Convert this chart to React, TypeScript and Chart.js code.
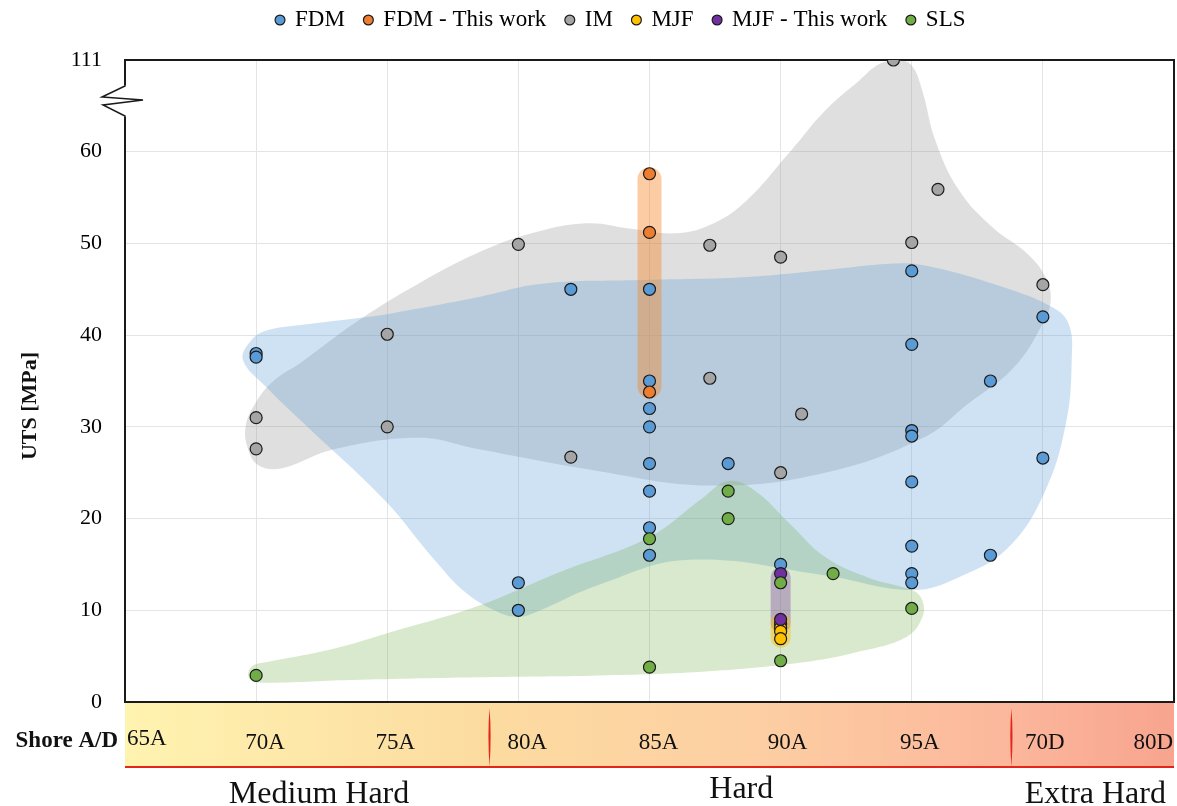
import React, { useEffect, useRef } from 'react';
import { Chart, registerables } from 'chart.js';

Chart.register(...registerables);

const FONT = '"Liberation Serif", "Times New Roman", Times, serif';

// ---- axes ----
const shoreTickValues = [65, 70, 75, 80, 85, 90, 95, 100, 105];
const shoreTickLabels = ['65A', '70A', '75A', '80A', '85A', '90A', '95A', '70D', '80D'];
const utsTickValues = [0, 10, 20, 30, 40, 50, 60, 70];
const utsTickLabels = ['0', '10', '20', '30', '40', '50', '60', '111'];
const hardnessClasses = ['Medium Hard', 'Hard', 'Extra Hard'];
const hardnessClassCentres = [72.4, 88.5, 102.0];
const hardnessClassBounds = [78.9, 98.8];

// broken axis: 60..111 MPa squeezed into 60..70 axis units
const BREAK_FROM = 60;
const BREAK_TO = 111;
const BREAK_SPAN = 10;
const toAxis = (v: number) => (v <= BREAK_FROM ? v : BREAK_FROM + ((v - BREAK_FROM) * BREAK_SPAN) / (BREAK_TO - BREAK_FROM));

// ---- series (Shore position, UTS MPa) ----
const fdm: [number, number][] = [
  [70, 38.0], [70, 37.6], [80, 13.0], [80, 10.0], [82, 45.0], [85, 45.0], [85, 35.0], [85, 32.0], [85, 30.0],
  [85, 26.0], [85, 23.0], [85, 19.0], [85, 16.0], [88, 26.0], [90, 15.0], [95, 47.0], [95, 39.0], [95, 29.6],
  [95, 29.0], [95, 24.0], [95, 17.0], [95, 14.0], [95, 13.0], [98, 35.0], [98, 16.0], [100, 42.0], [100, 26.6],
];
const fdmThisWork: [number, number][] = [[85, 57.6], [85, 51.2], [85, 33.8]];
const im: [number, number][] = [
  [70, 31.0], [70, 27.6], [75, 40.1], [75, 30.0], [80, 49.9], [82, 26.7], [87.3, 49.8], [87.3, 35.3], [90, 48.5],
  [90.8, 31.4], [90, 25.0], [94.3, 111], [96, 55.9], [95, 50.1], [100, 45.5],
];
const mjf: [number, number][] = [[90, 8.5], [90, 8.1], [90, 7.7], [90, 6.9]];
const mjfThisWork: [number, number][] = [[90, 14.0], [90, 9.0]];
const sls: [number, number][] = [
  [70, 2.9], [85, 17.8], [85, 3.8], [88, 23.0], [88, 20.0], [90, 13.0], [90, 4.5], [92, 14.0], [95, 10.2],
];

// ---- shaded envelopes (outline points, Shore position / UTS MPa) ----
const imEnvelope: [number, number][] = [
  [69.6, 30.0], [70.0, 32.7], [70.7, 35.1], [71.7, 37.0], [73.9, 41.6], [76.3, 45.8], [78.4, 48.9], [80.5, 51.1],
  [82.6, 52.2], [84.3, 51.6], [86.0, 51.1], [87.3, 52.0], [88.6, 54.4], [90.4, 60.7], [91.7, 82.9], [93.0, 99.6],
  [93.8, 109.0], [94.5, 110.8], [95.0, 107.9], [95.4, 94.0], [95.9, 66.2], [96.8, 55.8], [98.1, 51.7], [99.4, 48.9],
  [100.1, 46.3], [100.3, 43.8], [100.0, 41.3], [98.9, 36.5], [97.1, 32.4], [95.5, 28.9], [91.7, 25.0], [87.3, 23.6],
  [82.8, 25.3], [78.4, 27.6], [76.2, 28.8], [72.9, 27.5], [71.0, 25.5], [70.1, 25.8], [69.7, 27.5],
];
const fdmEnvelope: [number, number][] = [
  [69.5, 37.3], [69.8, 39.4], [70.4, 40.5], [71.7, 41.1], [74.0, 41.9], [75.2, 42.4], [78.4, 44.1], [80.9, 45.6],
  [84.7, 46.0], [88.5, 46.3], [91.7, 47.1], [94.3, 47.8], [95.5, 47.6], [98.1, 45.6], [100.4, 43.0], [101.0, 41.1],
  [101.1, 37.3], [100.9, 30.7], [100.1, 23.1], [98.7, 16.9], [96.8, 13.6], [95.0, 12.2], [91.7, 13.8], [86.5, 15.5],
  [83.1, 12.8], [80.6, 9.7], [80.0, 9.3], [79.3, 9.7], [78.0, 11.9], [76.8, 15.5], [74.9, 22.0], [71.7, 30.7], [70.4, 34.3],
];
const slsEnvelope: [number, number][] = [
  [69.7, 3.2], [69.9, 4.0], [70.3, 4.3], [72.8, 5.7], [75.0, 7.5], [78.4, 10.4], [81.6, 14.2], [85.0, 18.0],
  [87.0, 22.2], [88.0, 24.1], [89.0, 23.1], [90.4, 19.3], [91.7, 15.8], [93.4, 13.5], [95.0, 12.2], [95.4, 11.1],
  [95.4, 9.2], [94.8, 7.1], [93.0, 5.5], [90.8, 4.3], [87.0, 3.3], [83.1, 2.9], [78.4, 2.7], [73.6, 2.4],
  [70.3, 2.1], [69.8, 2.4],
];
const fdmThisWorkBand: [number, number][] = [[85, 57.0], [85, 34.4]];
const mjfThisWorkBand: [number, number][] = [[90, 13.6], [90, 8.6]];
const mjfBand: [number, number][] = [[90, 8.6], [90, 7.0]];

const pts = (arr: [number, number][]) => arr.map(([x, y]) => ({ x, y: toAxis(y) }));
const closed = (arr: [number, number][]) => {
  const p = pts(arr);
  return [p[p.length - 1], ...p, p[0], p[1]];
};

const pointSeries = (label: string, data: [number, number][], color: string, order: number) => ({
  type: 'scatter' as const,
  label,
  data: pts(data),
  backgroundColor: color,
  borderColor: '#1b1b1b',
  borderWidth: 1.2,
  pointRadius: 6,
  order,
});

const envelope = (label: string, data: [number, number][], color: string, order: number) => ({
  type: 'line' as const,
  label,
  data: closed(data),
  backgroundColor: color,
  borderWidth: 0,
  borderColor: 'rgba(0,0,0,0)',
  pointRadius: 0,
  tension: 0.4,
  fill: 'shape',
  order,
});

const band = (label: string, data: [number, number][], color: string, width: number, order: number) => ({
  type: 'line' as const,
  label,
  data: pts(data),
  borderColor: color,
  borderWidth: width,
  borderCapStyle: 'round' as const,
  pointRadius: 0,
  fill: false,
  order,
});

const labelNudge = [0, 9, 8, 9, 9, 7, 8, 2, 0];
const classBaselines = [101, 96, 101];

const decorPlugin = {
  id: 'decor',
  beforeDraw(chart: any) {
    const { ctx, chartArea: a, scales } = chart;
    const x = scales.x;
    ctx.save();
    const bandTop = a.bottom + 1;
    const bandBottom = a.bottom + 65;
    const g = ctx.createLinearGradient(a.left, 0, a.right, 0);
    g.addColorStop(0, '#fff3b0');
    g.addColorStop(0.35, '#fcdba0');
    g.addColorStop(0.6, '#fdcfa3');
    g.addColorStop(0.85, '#fbb69b');
    g.addColorStop(1, '#f8a48f');
    ctx.fillStyle = g;
    ctx.fillRect(a.left, bandTop, a.right - a.left, bandBottom - bandTop);

    ctx.strokeStyle = '#e3261a';
    ctx.lineWidth = 2;
    ctx.beginPath();
    ctx.moveTo(a.left, bandBottom);
    ctx.lineTo(a.right, bandBottom);
    ctx.stroke();

    ctx.fillStyle = '#e3261a';
    hardnessClassBounds.forEach((v) => {
      const px = x.getPixelForValue(v);
      ctx.beginPath();
      ctx.moveTo(px, bandTop + 5);
      ctx.quadraticCurveTo(px + 2.2, (bandTop + bandBottom) / 2, px, bandBottom);
      ctx.quadraticCurveTo(px - 2.2, (bandTop + bandBottom) / 2, px, bandTop + 5);
      ctx.fill();
    });

    ctx.fillStyle = '#111';
    ctx.font = `23px ${FONT}`;
    ctx.textBaseline = 'alphabetic';
    shoreTickValues.forEach((v, i) => {
      const px = x.getPixelForValue(v);
      if (i === 0) {
        ctx.textAlign = 'left';
        ctx.fillText(shoreTickLabels[i], px + 2, a.bottom + 43);
      } else if (i === shoreTickValues.length - 1) {
        ctx.textAlign = 'right';
        ctx.fillText(shoreTickLabels[i], px - 1, a.bottom + 47);
      } else {
        ctx.textAlign = 'center';
        ctx.fillText(shoreTickLabels[i], px + labelNudge[i], a.bottom + 47);
      }
    });

    ctx.font = `32px ${FONT}`;
    ctx.textAlign = 'center';
    hardnessClasses.forEach((t, i) => {
      ctx.fillText(t, x.getPixelForValue(hardnessClassCentres[i]), a.bottom + classBaselines[i]);
    });

    ctx.font = `bold 23px ${FONT}`;
    ctx.textAlign = 'right';
    ctx.fillText('Shore A/D', a.left - 7, a.bottom + 45);

    ctx.save();
    ctx.translate(30, (a.top + a.bottom) / 2 + 25);
    ctx.rotate(-Math.PI / 2);
    ctx.font = `bold 22px ${FONT}`;
    ctx.textAlign = 'center';
    ctx.textBaseline = 'middle';
    ctx.fillText('UTS [MPa]', 0, 0);
    ctx.restore();
    ctx.restore();
  },
  beforeDatasetsDraw(chart: any) {
    const { ctx, chartArea: a } = chart;
    ctx.save();
    ctx.strokeStyle = '#1a1a1a';
    ctx.lineWidth = 2;
    ctx.strokeRect(a.left, a.top, a.right - a.left, a.bottom - a.top);
    // axis break
    const L = a.left;
    const T = a.top;
    ctx.clearRect(L - 2, T + 25, 4, 32);
    ctx.lineWidth = 1.5;
    ctx.beginPath();
    ctx.moveTo(L, T + 24);
    ctx.lineTo(L, T + 26);
    ctx.lineTo(L - 23, T + 37);
    ctx.lineTo(L + 18, T + 40);
    ctx.lineTo(L - 22, T + 45);
    ctx.lineTo(L, T + 56);
    ctx.lineTo(L, T + 58);
    ctx.stroke();
    ctx.restore();
  },
};

export default function App() {
  const ref = useRef<HTMLCanvasElement>(null);
  useEffect(() => {
    Chart.defaults.font.family = FONT;
    const chart = new Chart(ref.current as HTMLCanvasElement, {
      type: 'scatter',
      data: {
        datasets: [
          pointSeries('FDM', fdm, '#5b9bd5', 5),
          pointSeries('FDM - This work', fdmThisWork, '#ed7d31', 4),
          pointSeries('IM', im, '#a5a5a5', 3),
          pointSeries('MJF', mjf, '#ffc000', 2),
          pointSeries('MJF - This work', mjfThisWork, '#7030a0', 1),
          pointSeries('SLS', sls, '#70ad47', 0),
          band('FDM - This work range', fdmThisWorkBand, 'rgba(248,130,30,0.40)', 24, 10),
          band('MJF - This work range', mjfThisWorkBand, 'rgba(112,48,160,0.33)', 20, 11),
          band('MJF range', mjfBand, 'rgba(255,192,0,0.45)', 20, 10.5),
          envelope('SLS envelope', slsEnvelope, 'rgba(112,173,71,0.27)', 12),
          envelope('FDM envelope', fdmEnvelope, 'rgba(91,155,213,0.29)', 13),
          envelope('IM envelope', imEnvelope, 'rgba(150,150,150,0.30)', 14),
        ] as any,
      },
      options: {
        animation: false,
        responsive: false,
        events: [],
        layout: { autoPadding: false, padding: { left: 68, right: 3, top: -11.5, bottom: 104 } },
        plugins: {
          tooltip: { enabled: false },
          legend: {
            position: 'top',
            weight: 3000,
            labels: {
              filter: (item: any) => item.datasetIndex < 6,
              sort: (a: any, b: any) => a.datasetIndex - b.datasetIndex,
              usePointStyle: true,
              pointStyle: 'circle',
              boxWidth: 7,
              boxHeight: 7,
              padding: 20,
              color: '#000',
              font: { family: FONT, size: 23 },
            },
          },
          title: {
            display: true,
            text: '',
            font: { size: 1, lineHeight: 1 },
            padding: { top: 0, bottom: 17.5 },
          },
        },
        scales: {
          x: {
            type: 'linear',
            min: 65,
            max: 105,
            ticks: { display: false, stepSize: 5 },
            grid: { color: '#e4e4e4', lineWidth: 1, drawTicks: false },
            border: { display: false },
          },
          y: {
            type: 'linear',
            min: 0,
            max: 70,
            afterFit: (s: any) => {
              s.width = 57;
            },
            ticks: {
              stepSize: 10,
              padding: 23,
              color: '#000',
              font: { family: FONT, size: 22 },
              callback: (v: any) => {
                const i = utsTickValues.indexOf(Number(v));
                return i >= 0 ? utsTickLabels[i] : '';
              },
            },
            grid: { color: '#e4e4e4', lineWidth: 1, drawTicks: false },
            border: { display: false },
          },
        },
      },
      plugins: [decorPlugin],
    } as any);
    return () => chart.destroy();
  }, []);
  return (
    <div style={{ position: 'fixed', left: 0, top: 0, width: 1177, height: 806, background: '#fff' }}>
      <canvas ref={ref} width={1177} height={806} />
    </div>
  );
}
